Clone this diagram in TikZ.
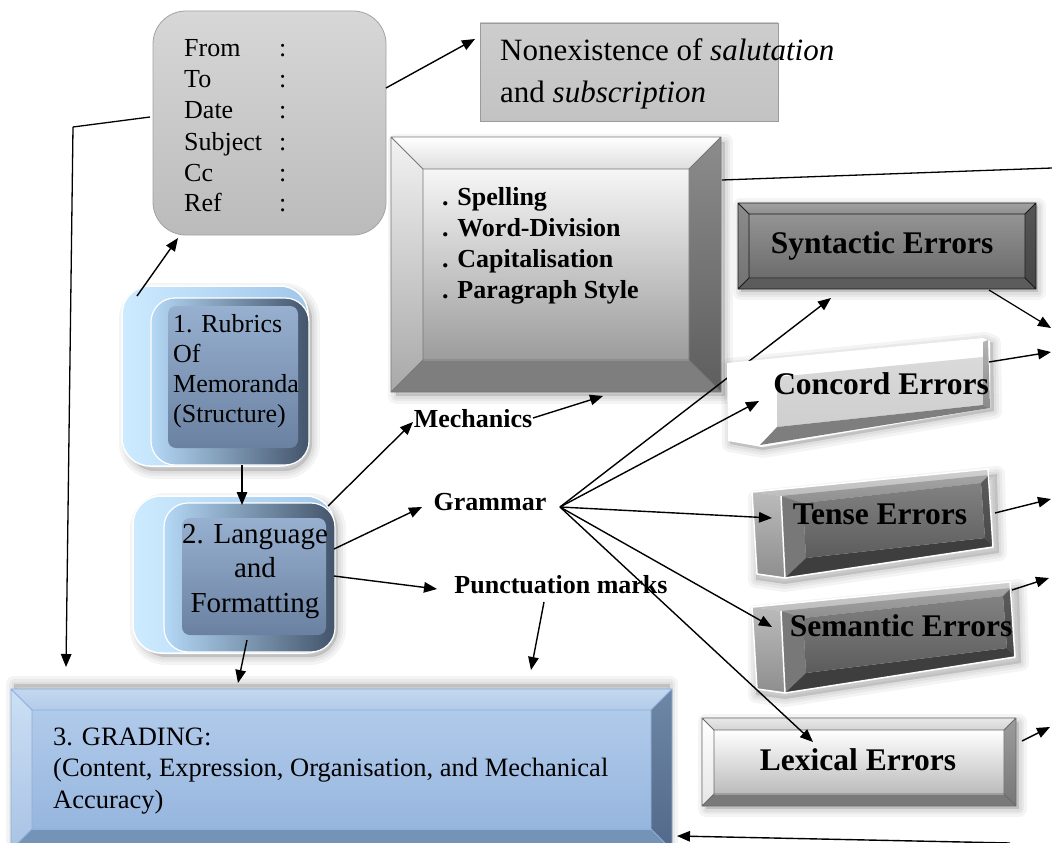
\documentclass[tikz,border=0pt]{standalone}
\usepackage{fontspec}
\setmainfont{Liberation Serif}
\usetikzlibrary{arrows.meta}
% memo / nonexistence
\definecolor{memotop}{HTML}{D7D7D7}\definecolor{memobot}{HTML}{BBBBBB}\definecolor{memoline}{HTML}{A3A3A3}
\definecolor{nonextop}{HTML}{CDCDCD}\definecolor{nonexbot}{HTML}{C3C3C3}\definecolor{nonexline}{HTML}{9B9B9B}
% mechanics bevel
\definecolor{mechTa}{HTML}{FFFFFF}\definecolor{mechTb}{HTML}{DEDEDE}
\definecolor{mechLa}{HTML}{F2F2F2}\definecolor{mechLb}{HTML}{A8A8A8}
\definecolor{mechRa}{HTML}{8C8C8C}\definecolor{mechRb}{HTML}{5E5E5E}
\definecolor{mechB}{HTML}{7E7E7E}
\definecolor{mechFa}{HTML}{F6F6F6}\definecolor{mechFb}{HTML}{9C9C9C}
\definecolor{mechE}{HTML}{777777}
% syntactic bevel
\definecolor{synTa}{HTML}{A2A2A2}\definecolor{synTb}{HTML}{8E8E8E}
\definecolor{synLa}{HTML}{8C8C8C}\definecolor{synLb}{HTML}{727272}
\definecolor{synRa}{HTML}{555555}\definecolor{synRb}{HTML}{464646}
\definecolor{synB}{HTML}{5C5C5C}
\definecolor{synFa}{HTML}{949494}\definecolor{synFb}{HTML}{6C6C6C}
\definecolor{synE}{HTML}{1A1A1A}
% lexical bevel
\definecolor{lexTa}{HTML}{E8E8E8}\definecolor{lexTb}{HTML}{D4D4D4}
\definecolor{lexLa}{HTML}{FFFFFF}\definecolor{lexLb}{HTML}{E6E6E6}
\definecolor{lexRa}{HTML}{9C9C9C}\definecolor{lexRb}{HTML}{777777}
\definecolor{lexB}{HTML}{7A7A7A}
\definecolor{lexFa}{HTML}{FFFFFF}\definecolor{lexFb}{HTML}{BBBBBB}
\definecolor{lexE}{HTML}{6A6A6A}
% grading bevel
\definecolor{graTa}{HTML}{C3D7EF}\definecolor{graTb}{HTML}{B3CBEA}
\definecolor{graLa}{HTML}{CCDFF4}\definecolor{graLb}{HTML}{A9C3E4}
\definecolor{graRa}{HTML}{6F87A7}\definecolor{graRb}{HTML}{52698A}
\definecolor{graB}{HTML}{7593B7}
\definecolor{graFa}{HTML}{B0CAEA}\definecolor{graFb}{HTML}{97B6DE}
\definecolor{graE}{HTML}{8AAED9}
% blue buttons
\definecolor{bluelight}{HTML}{CDEBFF}\definecolor{bluemid}{HTML}{A0C6EA}
\definecolor{panelL}{HTML}{B4D8F6}\definecolor{panelR}{HTML}{43546B}
\definecolor{faceT}{HTML}{98B0CF}\definecolor{faceB}{HTML}{6A81A1}
% slabs
\definecolor{slabLa}{HTML}{BBBBBB}\definecolor{slabLb}{HTML}{8E8E8E}
\definecolor{slabTa}{HTML}{D0D0D0}\definecolor{slabTb}{HTML}{BDBDBD}
\definecolor{slabBva}{HTML}{A5A5A5}\definecolor{slabBvb}{HTML}{8F8F8F}
\definecolor{slabSide}{HTML}{787878}
\definecolor{slabFa}{HTML}{828282}\definecolor{slabFb}{HTML}{5C5C5C}
\definecolor{slabBot}{HTML}{3E3E3E}
\definecolor{slabRa}{HTML}{5C5C5C}\definecolor{slabRb}{HTML}{484848}
\definecolor{conFa}{HTML}{DADADA}\definecolor{conFb}{HTML}{CECECE}
\definecolor{conRa}{HTML}{B4B4B4}\definecolor{conRb}{HTML}{8A8A8A}
\definecolor{conBot}{HTML}{7E7E7E}

\newcommand\softshadow[1]{\foreach \w in {16,10,5}{\path[shad, line width=\w pt] #1;}}
% #1 x1  #2 y1  #3 x2  #4 y2  #5 bevel  #6 colour prefix
\newcommand\bevelbox[6]{%
 \path[top color=#6Ta, bottom color=#6Tb] (#1,#2) -- (#3,#2) -- ({#3-#5},{#2+#5}) -- ({#1+#5},{#2+#5}) -- cycle;
 \path[top color=#6La, bottom color=#6Lb] (#1,#2) -- ({#1+#5},{#2+#5}) -- ({#1+#5},{#4-#5}) -- (#1,#4) -- cycle;
 \path[top color=#6Ra, bottom color=#6Rb] (#3,#2) -- (#3,#4) -- ({#3-#5},{#4-#5}) -- ({#3-#5},{#2+#5}) -- cycle;
 \fill[#6B] (#1,#4) -- ({#1+#5},{#4-#5}) -- ({#3-#5},{#4-#5}) -- (#3,#4) -- cycle;
 \path[top color=#6Fa, bottom color=#6Fb] ({#1+#5},{#2+#5}) rectangle ({#3-#5},{#4-#5});
 \draw[#6E, line width=0.8pt] (#1,#2) rectangle (#3,#4) ({#1+#5},{#2+#5}) rectangle ({#3-#5},{#4-#5})
   (#1,#2) -- ({#1+#5},{#2+#5}) (#3,#2) -- ({#3-#5},{#2+#5}) (#1,#4) -- ({#1+#5},{#4-#5}) (#3,#4) -- ({#3-#5},{#4-#5});
}
% slab: #1 outer-left x, #2 front-left x, #3 right x, #4 top-left y, #5 top-right y, #6 bottom-left y, #7 bottom-right y
\newcommand\slab[7]{%
 \softshadow{({#1+4},{#4+6}) -- ({#3+4},{#5+4}) -- ({#3+6},{#7+6}) -- ({#2+4},{#6+6}) -- ({#1+4},{#6+2}) -- cycle}
 \path[top color=slabLa, bottom color=slabLb] (#1,#4) -- (#2,{#4+4}) -- ({#2+4},#6) -- ({#1+5},{#6-4}) -- cycle;
 \path[top color=slabTa, bottom color=slabTb] (#1,#4) -- ({#3-5},{#5-1}) -- ({#3-4},{#5+5}) -- (#2,{#4+4}) -- cycle;
 \path[top color=slabBva, bottom color=slabBvb] (#2,{#4+4}) -- ({#3-4},{#5+5}) -- ({#3-12},{#5+13}) -- ({#2+22},{#4+11}) -- cycle;
 \fill[slabSide] (#2,{#4+4}) -- ({#2+22},{#4+11}) -- ({#2+25},{#6-20}) -- ({#2+4},#6) -- cycle;
 \path[top color=slabRa, bottom color=slabRb] ({#3-4},{#5+5}) -- (#3,#7) -- ({#3-8},{#7-9}) -- ({#3-12},{#5+13}) -- cycle;
 \fill[slabBot] ({#2+4},#6) -- ({#2+25},{#6-20}) -- ({#3-8},{#7-9}) -- (#3,#7) -- cycle;
 \path[top color=slabFa, bottom color=slabFb] ({#2+22},{#4+11}) -- ({#3-12},{#5+13}) -- ({#3-8},{#7-9}) -- ({#2+25},{#6-20}) -- cycle;
 \draw[white, line width=1.5pt, line join=round] (#1,#4) -- ({#3-5},{#5-1}) -- (#3,#7) -- ({#2+4},#6) -- ({#1+5},{#6-4}) -- cycle
   (#2,{#4+4}) -- ({#2+4},#6);
}

\begin{document}
\begin{tikzpicture}[x=1pt,y=-1pt,
  arr/.style={line width=1.4pt,-{Triangle[length=13pt,width=10.5pt]}},
  plain/.style={line width=1.3pt},
  shad/.style={fill=black, fill opacity=0.045, draw=black, draw opacity=0.045, line join=round},
  reg/.style={font=\fontsize{26}{31}\selectfont, inner sep=0pt},
  bld/.style={font=\fontsize{26}{31}\selectfont\bfseries, inner sep=0pt},
  err/.style={font=\fontsize{31.5}{36}\selectfont\bfseries, inner sep=0pt},
  boxref/.style={inner sep=0pt, outer sep=0pt}]
\useasboundingbox (0,0) rectangle (1052,843);
\fill[white] (0,0) rectangle (1052,843);

% ---------- memo box ----------
\node[draw=memoline, line width=0.8pt, rounded corners=33pt, top color=memotop, bottom color=memobot,
      minimum width=233pt, minimum height=224pt, inner sep=0pt] (memo) at (269.5,123) {};
\node[reg, anchor=base west] (memotext) at (184,57)
 {\begin{tabular}[t]{@{}p{95pt}@{}l@{}}From&:\\To&:\\Date&:\\Subject&:\\Cc&:\\Ref&:\end{tabular}};

% ---------- nonexistence box ----------
\node[draw=nonexline, line width=0.8pt, top color=nonextop, bottom color=nonexbot,
      minimum width=298pt, minimum height=98pt, inner sep=0pt] (nonex) at (629,72) {};
\node[font=\fontsize{31}{41}\selectfont, inner sep=0pt, anchor=base west] (nonextext) at (500,61)
 {\begin{tabular}[t]{@{}l@{}}Nonexistence of \textit{salutation}\\and \textit{subscription}\end{tabular}};

% ---------- mechanics bevel box ----------
\softshadow{(396,142) rectangle (725,396)}
\bevelbox{391}{137}{721}{392}{32}{mech}
\node[boxref, minimum width=330pt, minimum height=255pt] (mech) at (556,264.5) {};
\node[bld, anchor=base west] (mechtext) at (442,205)
 {\begin{tabular}[t]{@{}l@{}}. Spelling\\. Word-Division\\. Capitalisation\\. Paragraph Style\end{tabular}};

% ---------- syntactic ----------
\softshadow{(741,206) rectangle (1038,292)}
\bevelbox{738}{203}{1036}{289}{11}{syn}
\node[boxref, minimum width=298pt, minimum height=86pt] (syn) at (887,246) {};
\node[err, anchor=base] (syntxt) at (882,253) {Syntactic Errors};

% ---------- lexical ----------
\softshadow{(706,722) rectangle (1019,809)}
\bevelbox{702}{718}{1016}{806}{12}{lex}
\node[boxref, minimum width=314pt, minimum height=88pt] (lex) at (859,762) {};
\node[err, anchor=base] (lextxt) at (858,770) {Lexical Errors};

% ---------- tense / semantic slabs ----------
\slab{752}{781}{993}{492}{470}{578}{547}
\node[boxref, minimum width=241pt, minimum height=86pt] (tense) at (872,524) {};
\node[err, anchor=base] (tentxt) at (880,524) {Tense Errors};
\slab{752}{781}{1015}{607}{583}{693}{657}
\node[boxref, minimum width=263pt, minimum height=110pt] (sem) at (883,638) {};
\node[err, anchor=base] (semtxt) at (901,636) {Semantic Errors};

% ---------- grading ----------
\softshadow{(14,684) rectangle (670,860)}
\bevelbox{11}{689}{672}{850}{21}{gra}
\node[boxref, minimum width=661pt, minimum height=154pt] (grad) at (341.5,766) {};
\node[font=\fontsize{26.5}{31.5}\selectfont, inner sep=0pt, anchor=base west] (gradtext) at (53,745)
 {\begin{tabular}[t]{@{}l@{}}3. GRADING:\\(Content, Expression, Organisation, and Mechanical\\Accuracy)\end{tabular}};

% ---------- rubrics button ----------
\softshadow{[rounded corners=28pt] (127,291) rectangle (312,471)}
\path[rounded corners=28pt, left color=bluelight, right color=bluemid, draw=white, line width=1.5pt] (122,286) rectangle (308,466);
\path[rounded corners=24pt, left color=panelL, right color=panelR, draw=white, line width=1.2pt] (151,298) rectangle (309,465);
\path[rounded corners=8pt, top color=faceT, bottom color=faceB] (168,306) rectangle (298,448);
\node[boxref, minimum width=186pt, minimum height=180pt] (rub) at (215,376) {};
\node[font=\fontsize{26}{30}\selectfont, inner sep=0pt, anchor=base west] (rubtxt) at (173,332)
 {\begin{tabular}[t]{@{}l@{}}1. Rubrics\\Of\\Memoranda\\(Structure)\end{tabular}};

% ---------- language button ----------
\softshadow{[rounded corners=28pt] (138,501) rectangle (338,657)}
\path[rounded corners=28pt, left color=bluelight, right color=bluemid, draw=white, line width=1.5pt] (133,496) rectangle (334,653);
\path[rounded corners=24pt, left color=panelL, right color=panelR, draw=white, line width=1.2pt] (164,503) rectangle (335,652);
\path[rounded corners=8pt, top color=faceT, bottom color=faceB] (182,518) rectangle (326,635);
\node[boxref, minimum width=201pt, minimum height=157pt] (lang) at (234,574.5) {};
\node[font=\fontsize{29}{34.5}\selectfont, inner sep=0pt, anchor=base] (langtxt) at (255,543)
 {\begin{tabular}[t]{@{}c@{}}2. Language\\and\\Formatting\end{tabular}};

% ---------- connection points ----------
\coordinate (memoR) at (386,88);   \coordinate (nonexL) at (475,39);
\coordinate (rubT) at (137,296);   \coordinate (memoB) at (178,238);
\coordinate (memoL) at (150,117);  \coordinate (bend) at (73,127);  \coordinate (gradTL) at (66,667);
\coordinate (rubB) at (242,465);   \coordinate (langT) at (242,505);
\coordinate (langR1) at (328,506); \coordinate (mechLabL) at (413,422);
\coordinate (mechLabR) at (533,418); \coordinate (mechB) at (603,396);
\coordinate (langR2) at (334,549); \coordinate (gramL) at (422,507);
\coordinate (langR3) at (334,576); \coordinate (punctL) at (437,589);
\coordinate (langB) at (247,640);  \coordinate (gradT) at (238,683);
\coordinate (punctB) at (544,602); \coordinate (gradT2) at (531,670);
\coordinate (gramR) at (560,507);
\coordinate (synIn) at (831,298);  \coordinate (conIn) at (759,401);
\coordinate (tenIn) at (772,518);  \coordinate (semIn) at (772,627);
\coordinate (lexIn) at (813,742);
\coordinate (mechR) at (722,180);  \coordinate (edgeA) at (1052,168);
\coordinate (synR) at (989,290);   \coordinate (edgeB) at (1051,328);
\coordinate (conR) at (989,362);   \coordinate (edgeC) at (1051,352);
\coordinate (tenR) at (995,513);   \coordinate (edgeD) at (1051,499);
\coordinate (semR) at (1012,590);  \coordinate (edgeE) at (1049,578);
\coordinate (lexR) at (1022,741);  \coordinate (edgeF) at (1050,727);
\coordinate (edgeG) at (1010,843); \coordinate (gradR) at (677,836);

% syntactic arrow passes behind the concord box
\draw[arr] (gramR) -- (synIn);

% ---------- concord box ----------
\softshadow{(729,366) -- (985,340) -- (993,343) -- (994,411) -- (763,450) -- (730,444) -- cycle}
\fill[white] (727,363) -- (983,338) -- (990,341) -- (990,408) -- (762,447) -- (728,441) -- cycle;
\path[top color=conFa, bottom color=conFb] (777,377) -- (983,357) -- (983,405) -- (777,427) -- cycle;
\path[top color=conRa, bottom color=conRb] (983,342) -- (988,340) -- (990,408) -- (983,405) -- cycle;
\fill[conBot] (760,445) -- (777,427) -- (983,405) -- (990,408) -- cycle;
\node[boxref, minimum width=263pt, minimum height=109pt] (con) at (858.5,392.5) {};
\node[err, anchor=base] (contxt) at (881,394) {Concord Errors};

% ---------- labels ----------
\node[bld, anchor=base] (mechlab) at (473,427) {Mechanics};
\node[bld, anchor=base] (gram) at (490,510) {Grammar};
\node[bld, anchor=base] (punct) at (561,593) {Punctuation marks};

% ---------- connectors ----------
\draw[arr] (memoR) -- (nonexL);
\draw[arr] (rubT) -- (memoB);
\draw[plain] (memoL) -- (bend);
\draw[plain,-{Triangle[length=13pt,width=10.5pt]}] (bend) -- (gradTL);
\draw[arr] (rubB) -- (langT);
\draw[arr] (langR1) -- (mechLabL);
\draw[arr] (mechLabR) -- (mechB);
\draw[arr] (langR2) -- (gramL);
\draw[arr] (langR3) -- (punctL);
\draw[arr] (langB) -- (gradT);
\draw[arr] (punctB) -- (gradT2);
\draw[arr] (gramR) -- (conIn);
\draw[arr] (gramR) -- (tenIn);
\draw[arr] (gramR) -- (semIn);
\draw[arr] (gramR) -- (lexIn);
\draw[plain] (mechR) -- (edgeA);
\draw[line width=1.2pt,-{Triangle[length=13pt,width=10.5pt]}] (synR) -- (edgeB);
\draw[arr] (conR) -- (edgeC);
\draw[arr] (tenR) -- (edgeD);
\draw[arr] (semR) -- (edgeE);
\draw[arr] (lexR) -- (edgeF);
\draw[arr] (edgeG) -- (gradR);
\end{tikzpicture}
\end{document}
